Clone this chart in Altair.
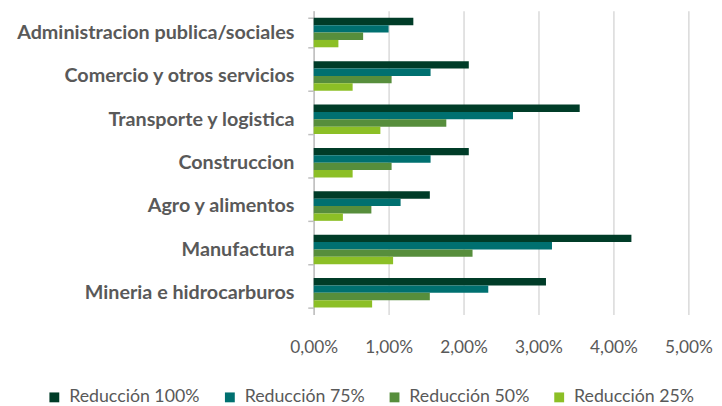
import altair as alt
import pandas as pd

categories = [
    "Administracion publica/sociales",
    "Comercio y otros servicios",
    "Transporte y logistica",
    "Construccion",
    "Agro y alimentos",
    "Manufactura",
    "Mineria e hidrocarburos",
]
series = ["Reducción 100%", "Reducción 75%", "Reducción 50%", "Reducción 25%"]
colors = ["#003C28", "#007070", "#578E3C", "#8CBF26"]

red100 = [1.33, 2.07, 3.55, 2.07, 1.55, 4.24, 3.10]
red75 = [1.00, 1.56, 2.66, 1.56, 1.16, 3.18, 2.33]
red50 = [0.66, 1.04, 1.77, 1.04, 0.77, 2.12, 1.55]
red25 = [0.33, 0.52, 0.89, 0.52, 0.39, 1.06, 0.78]

rows = []
for s, vals in zip(series, [red100, red75, red50, red25]):
    for c, v in zip(categories, vals):
        rows.append({"Sector": c, "Serie": s, "Valor": v})
df = pd.DataFrame(rows)

grey = "#595959"
font = "Lato"

chart = alt.Chart(df).mark_bar().encode(
    y=alt.Y("Sector:N", sort=categories,
            scale=alt.Scale(paddingInner=0.32, paddingOuter=0.16),
            axis=alt.Axis(title=None, labelFont=font, labelFontWeight="bold",
                          labelFontSize=20, labelColor=grey, labelPadding=14,
                          labelLimit=400, tickBand="extent", tickSize=6,
                          tickColor="#BFBFBF", domainColor="#BFBFBF",
                          domainWidth=1.5, tickWidth=1.5, grid=False)),
    yOffset=alt.YOffset("Serie:N", sort=series),
    x=alt.X("Valor:Q", scale=alt.Scale(domain=[0, 5], nice=False),
            axis=alt.Axis(title=None, values=[0, 1, 2, 3, 4, 5],
                          labelExpr="replace(format(datum.value, '.2f'), '.', ',') + '%'",
                          labelFont=font, labelFontSize=17.5, labelColor=grey,
                          labelPadding=25, labelFlush=False, domain=False, ticks=False,
                          gridColor="#D9D9D9", gridWidth=1.5)),
    color=alt.Color("Serie:N", sort=series,
                    scale=alt.Scale(domain=series, range=colors),
                    legend=alt.Legend(title=None, orient="none", direction="horizontal",
                                      legendX=-272, legendY=383, symbolType="square",
                                      symbolSize=100, symbolStrokeWidth=0,
                                      labelFont=font, labelFontSize=18,
                                      labelColor=grey, columnPadding=21,
                                      labelOffset=6)),
).properties(
    width=380, height=308,
    autosize=alt.AutoSizeParams(type="none"),
    padding={"left": 310, "top": 0, "right": 26, "bottom": 100},
).configure_view(stroke=None)

chart.save("out.html", embed_options={"renderer": "svg", "actions": False})
